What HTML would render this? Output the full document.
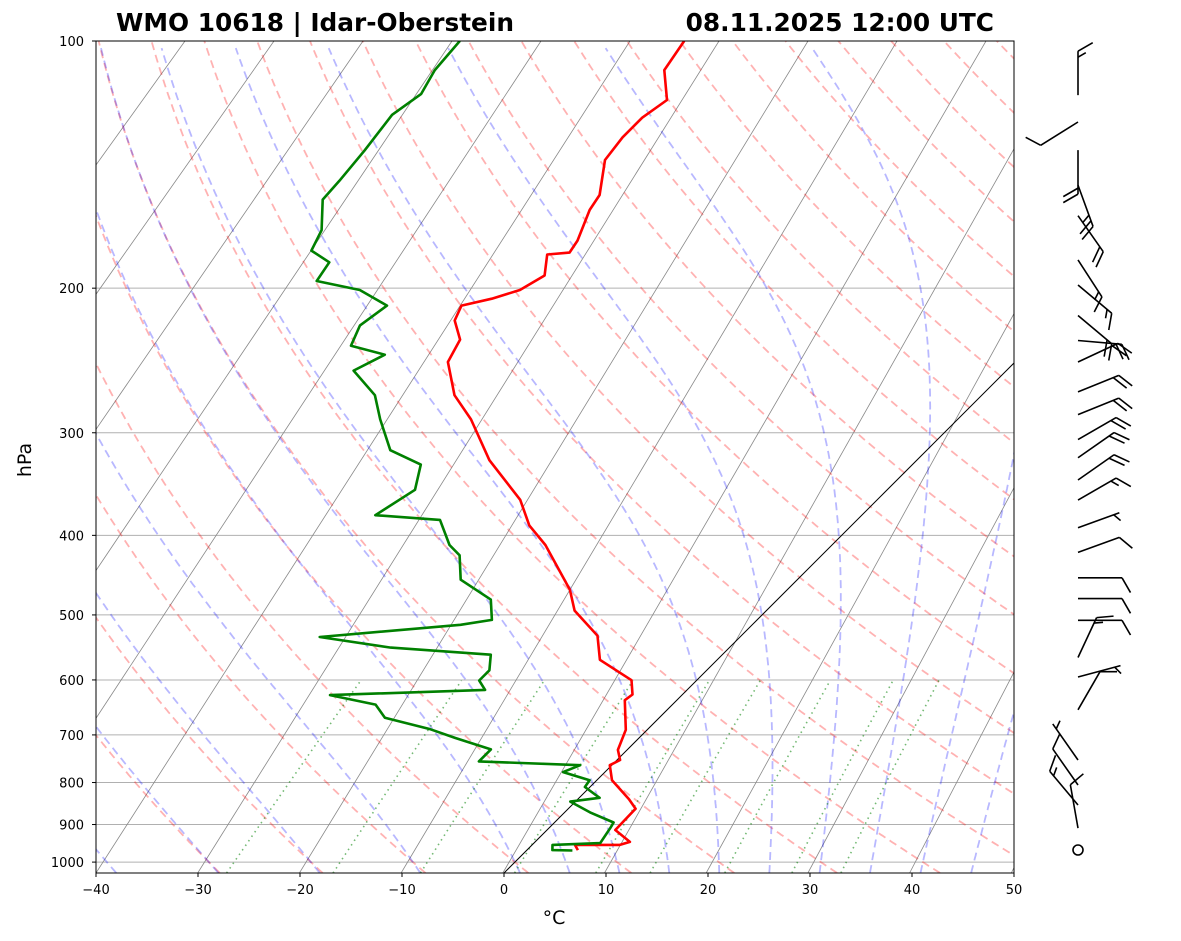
<!DOCTYPE html>
<html><head><meta charset="utf-8"><style>
html,body{margin:0;padding:0;background:#fff;}
svg{display:block;font-family:"DejaVu Sans","Liberation Sans",sans-serif;}
</style></head><body>
<svg id="chart" width="1181" height="941" viewBox="0 0 1181 941" xmlns="http://www.w3.org/2000/svg">
<defs><clipPath id="clip"><rect x="96" y="41" width="918" height="832"/></clipPath></defs>
<g id="bg" clip-path="url(#clip)"></g>
<g id="prof" clip-path="url(#clip)"></g>
<rect x="96" y="41" width="918" height="832" fill="none" stroke="#000" stroke-width="1"/>
<g id="axes"></g>
<g id="barbs"></g>
<text x="116" y="31" font-size="24.8" font-weight="bold">WMO 10618 | Idar-Oberstein</text>
<text x="994" y="31" font-size="24.8" font-weight="bold" text-anchor="end">08.11.2025 12:00 UTC</text>
<text x="554" y="924" font-size="19" text-anchor="middle">°C</text>
<text x="31" y="460" font-size="19" text-anchor="middle" transform="rotate(-90 31 460)">hPa</text>
</svg>
<script>
const tempP=[100,108.5,118,124,131,139.6,154,160.6,175,181,182,193,201,206,210,219,231,246,270,289,324,362,389,411,466,494,530,567,600.5,625,635,690,730,751,762,795,838,861,914,945,953,953,967];
const tempT=[-63.9,-63.0,-59.8,-60.5,-60.5,-60.0,-57.1,-56.6,-54.8,-54.4,-56.4,-54.6,-55.6,-57.5,-59.8,-59.0,-56.6,-55.6,-51.7,-47.7,-41.9,-35.0,-31.6,-28.1,-21.3,-18.8,-14.1,-11.5,-6.4,-4.9,-5.1,-2.1,-0.9,0.3,-0.2,1.5,5.0,6.6,6.7,9.3,8.6,4.2,5.0];
const dewP=[100,108.5,116,123,136,148,156,170,180,186,196,201,210,222,235,241,252,270,289,315,328,352,378,383,411,423,453,479,507,514,532,548,559,584,601,617,626,643,667,689,706,729,754,762,777,795,810,835,844,870,895,908,948,953,967,968];
const dewT=[-85.9,-85.5,-84.5,-85.3,-84.5,-84.0,-83.8,-80.9,-79.9,-77.0,-76.4,-71.3,-67.1,-67.8,-66.7,-62.5,-64.0,-59.5,-56.6,-52.6,-48.2,-46.3,-47.7,-40.9,-37.5,-35.5,-33.0,-28.1,-26.0,-28.6,-41.2,-33.2,-22.7,-21.3,-21.3,-19.8,-34.5,-29.1,-26.9,-21.3,-18.0,-13.4,-13.4,-3.1,-4.1,-0.7,-0.5,2.0,-0.5,2.5,5.8,6.0,6.5,2.0,2.5,4.5];
const barbP=[116.4,125.5,135.8,149.8,163.2,184.8,198.2,215.9,231.6,246,267.5,285.1,305.8,321.8,342.5,362.3,391.6,419.6,450.6,477.6,507.6,563.4,595.1,652.4,751,805.6,852,909];
const barbDir=[-90,148,90,70,55,57,40,40,5,-25,-22,-22,-30,-35,-35,-30,-20,-20,0,0,0,-65,-15,-60,-125,-125,-130,-100];
const barbSpd=[15,10,20,25,20,15,15,20,20,20,20,20,20,20,20,15,5,10,10,10,10,15,5,10,5,10,15,10];
const xTicks=[-40,-30,-20,-10,0,10,20,30,40,50];
const pTicks=[100,200,300,400,500,600,700,800,900,1000];
const dryT0=[-30,-20,-10,0,10,20,30,40,50,60,70,80,90,100,110,120,130,140,150,160,170,180,190,200];
const moistT0=[-50,-40,-30,-20,-10,0,5,10,15,20,25,30,35,40,45];
const mixW=[0.0004,0.001,0.002,0.004,0.007,0.01,0.016,0.024,0.032];

const NS='http://www.w3.org/2000/svg';
const PMAX=1031;
function yP(p){return 41+356.6*Math.log(p/100);}
function xT(T,p){return 96+(T+40)*10.2+(873-yP(p));}
function mk(tag,attrs,parent){const e=document.createElementNS(NS,tag);for(const k in attrs)e.setAttribute(k,attrs[k]);parent.appendChild(e);return e;}
const bg=document.getElementById('bg'),prof=document.getElementById('prof'),axes=document.getElementById('axes'),bb=document.getElementById('barbs');
function pathFrom(pts){return pts.map((q,i)=>(i?'L':'M')+q[0].toFixed(1)+' '+q[1].toFixed(1)).join(' ');}
const pr=[];for(let p=PMAX;p>=99;p-=3)pr.push(p);pr.push(100);

pTicks.forEach(p=>{const l=mk('line',{x1:96,x2:1014,y1:yP(p),y2:yP(p),stroke:'#b0b0b0','stroke-width':1},bg);
});
for(let k=-8;k<=10;k++){const l=mk('line',{x1:96+101.7*k,y1:873,x2:630+89*k,y2:41,stroke:'#888','stroke-width':0.8},bg);
}
dryT0.forEach(t0=>{const pts=pr.map(p=>[xT((t0+273.15)*Math.pow(p/1000,0.2857)-273.15,p),yP(p)]);
const e=mk('path',{d:pathFrom(pts),fill:'none',stroke:'rgba(255,0,0,0.3)','stroke-width':1.8,'stroke-dasharray':'8,5'},bg);
});
function es(T){return 6.112*Math.exp(17.67*T/(T+243.5));}
function dTdp(Tc,p){const T=Tc+273.15,e=es(Tc),rs=0.622*e/(p-e),Rd=287.04,Cp=1005.7,Lv=2.501e6;
return (1/p)*(Rd*T+Lv*rs)/(Cp+Lv*Lv*rs*0.622/(Rd*T*T));}
moistT0.forEach(t0=>{let up=[],T=t0;for(let p=1000;p>=100;p-=1){up.push([p,T]);T-=dTdp(T,p);}
let dn=[];T=t0;for(let p=1000;p<=PMAX;p+=1){dn.push([p,T]);T+=dTdp(T,p);}
const all=dn.reverse().concat(up).filter((q,i)=>i%3==0);
const e=mk('path',{d:pathFrom(all.map(q=>[xT(q[1],q[0]),yP(q[0])])),fill:'none',stroke:'rgba(0,0,255,0.28)','stroke-width':1.8,'stroke-dasharray':'8,5'},bg);
});
mixW.forEach(w=>{const pts=[];for(let p=PMAX;p>=600;p-=5){const e=p*w/(0.622+w),l=Math.log(e/6.112);pts.push([xT(243.5*l/(17.67-l),p),yP(p)]);}
const e=mk('path',{d:pathFrom(pts),fill:'none',stroke:'rgba(0,128,0,0.55)','stroke-width':1.6,'stroke-dasharray':'1.5,4'},bg);
});
const z=mk('line',{x1:xT(0,PMAX),y1:873,x2:xT(0,100),y2:41,stroke:'#000','stroke-width':1},bg);

const tp=mk('path',{d:pathFrom(tempP.map((p,i)=>[xT(tempT[i],p),yP(p)])),fill:'none',stroke:'#ff0000','stroke-width':2.6,'stroke-linejoin':'round'},prof);

const dp=mk('path',{d:pathFrom(dewP.map((p,i)=>[xT(dewT[i],p),yP(p)])),fill:'none',stroke:'#008000','stroke-width':2.6,'stroke-linejoin':'round'},prof);

xTicks.forEach(t=>{const x=96+(t+40)*10.2;mk('line',{x1:x,x2:x,y1:873,y2:877,stroke:'#000'},axes);
const tx=mk('text',{x:x,y:894,'font-size':13,'text-anchor':'middle'},axes);tx.textContent=(t<0?'\u2212'+(-t):t);
});
pTicks.forEach(p=>{const y=yP(p);mk('line',{x1:92,x2:96,y1:y,y2:y,stroke:'#000'},axes);
const tx=mk('text',{x:84,y:y+5,'font-size':13,'text-anchor':'end'},axes);tx.textContent=p;
});
barbP.forEach((p,i)=>{const x0=1078,y0=yP(p),a=barbDir[i]*Math.PI/180,L=44;
const g=mk('g',{stroke:'#000','stroke-width':1.6,fill:'none'},bb);

const dx=Math.cos(a),dy=Math.sin(a),tx=x0+dx*L,ty=y0+dy*L;
mk('line',{x1:x0,y1:y0,x2:tx,y2:ty},g);
const ba=a+60*Math.PI/180,bx=Math.cos(ba),by=Math.sin(ba);
let s=barbSpd[i],pos=0;
while(s>=10){const px=tx-dx*pos,py=ty-dy*pos;mk('line',{x1:px,y1:py,x2:px+bx*17,y2:py+by*17},g);pos+=6;s-=10;}
if(s>=5){if(pos==0)pos=6;const px=tx-dx*pos,py=ty-dy*pos;mk('line',{x1:px,y1:py,x2:px+bx*9,y2:py+by*9},g);}
});
const c=mk('circle',{cx:1078,cy:850,r:5,fill:'none',stroke:'#000','stroke-width':1.6},bb);

</script>
</body></html>
